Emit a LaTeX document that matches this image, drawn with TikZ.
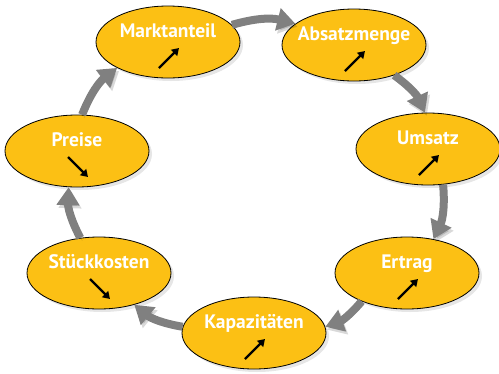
\documentclass[tikz,border=0pt]{standalone}
\usepackage{fontspec}
\setmainfont{PT Sans}
\usetikzlibrary{arrows.meta,shadows,shapes.geometric}
\definecolor{gelb}{RGB}{252,192,20}
\definecolor{pfeilgrau}{RGB}{128,128,128}
\tikzset{
  feld/.style={ellipse,draw=black,line width=0.8pt,fill=gelb,minimum width=144pt,minimum height=72pt,inner sep=0pt,
    drop shadow={shadow xshift=3pt,shadow yshift=-3pt,opacity=0.2}},
  titel/.style={text=white,font=\bfseries\fontsize{19.5}{22}\selectfont,anchor=base,inner sep=0pt},
  fluss/.style={draw=pfeilgrau,line width=8pt,-{Triangle[length=18pt,width=22pt]},
    preaction={draw=black,opacity=0.15,transform canvas={shift={(2pt,-3pt)}}}},
  trend/.style={draw=black,line width=2.2pt,-{Triangle[length=7pt,width=8.5pt]}}
}
\begin{document}
\begin{tikzpicture}
[x=1pt,y=1pt]
\useasboundingbox (0,0) rectangle (499,-373);

\node[feld] (mark) at (168,-42) {};
\node[feld] (absatz) at (354,-45) {};
\node[feld] (umsatz) at (428,-149) {};
\node[feld] (ertrag) at (407,-273) {};
\node[feld] (kap) at (254,-333) {};
\node[feld] (stueck) at (99,-273) {};
\node[feld] (preise) at (77,-151) {};

\node[titel] (markT) at ([yshift=5]mark.center) {Marktanteil};
\node[titel] (absatzT) at ([yshift=5]absatz.center) {Absatzmenge};
\node[titel] (umsatzT) at ([yshift=5]umsatz.center) {Umsatz};
\node[titel] (ertragT) at ([yshift=5]ertrag.center) {Ertrag};
\node[titel] (kapT) at ([yshift=5]kap.center) {Kapazitäten};
\node[titel] (stueckT) at ([yshift=5]stueck.center) {Stückkosten};
\node[titel] (preiseT) at ([yshift=5]preise.center) {Preise};

% steigend
\foreach \n in {mark,absatz,umsatz,ertrag,kap}
\draw[trend] ([shift={(-9,-26)}]\n.center) -- ([shift={(11,-6)}]\n.center);
% fallend
\foreach \n in {stueck,preise}
\draw[trend] ([shift={(-9,-6)}]\n.center) -- ([shift={(11,-26)}]\n.center);

\foreach \from/\fa/\to/\ta in {mark/15/absatz/160,absatz/-37/umsatz/95,umsatz/-67/ertrag/52,ertrag/-148/kap/5,kap/175/stueck/-42,stueck/118/preise/257,preise/82/mark/207}
\draw[fluss] (\from.\fa) to[bend left=15] (\to.\ta);
\end{tikzpicture}
\end{document}
